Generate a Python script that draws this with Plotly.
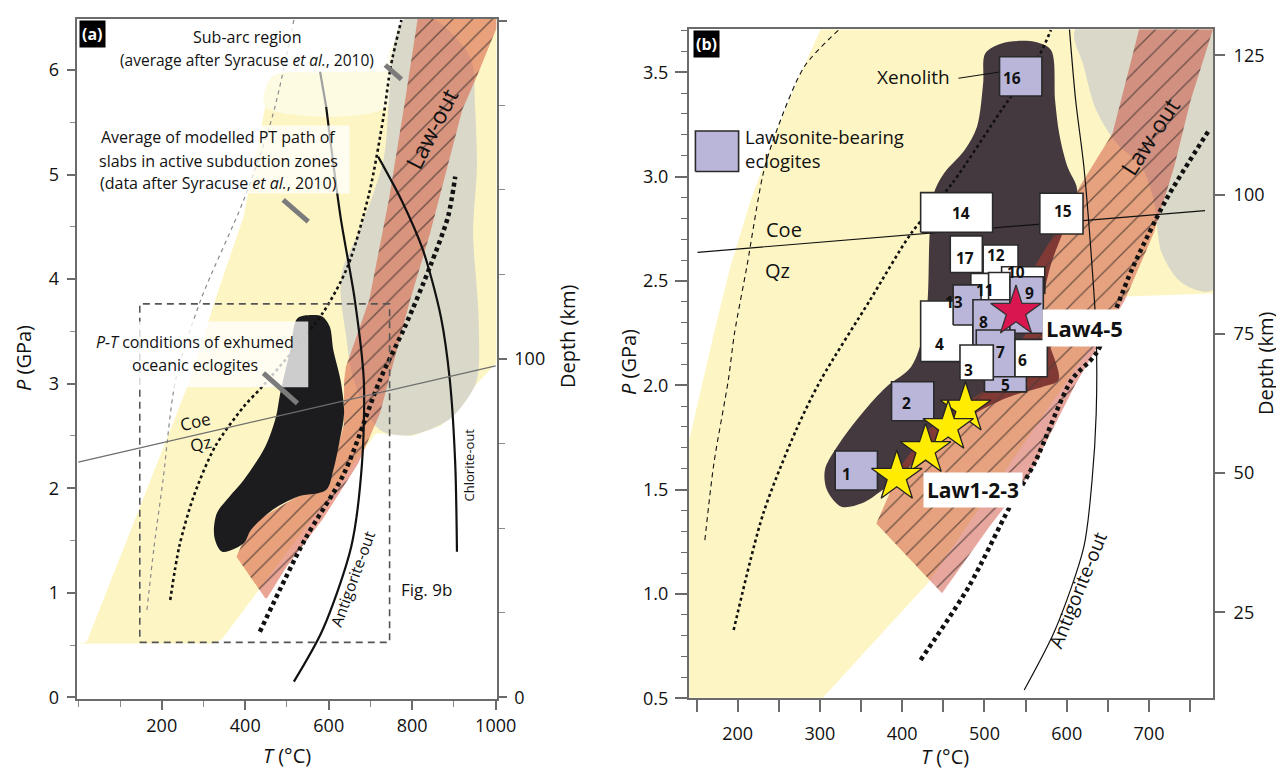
import plotly.graph_objects as go

FONT = "Open Sans, Noto Sans, DejaVu Sans, sans-serif"
W, H = 1284, 770          # browser window
OFF = 8                   # default page margin around the plot div
FW, FH = W - OFF, H - OFF


def px_x(px):
    return (px - OFF) / FW


def px_y(py):
    return 1 - (py - OFF) / FH


# ------------------------------------------------------------------ panel (a) data
A_YELLOW_T = [0, 20, 267, 328, 396, 448, 740, 757, 783, 1002, 1002, 955, 870, 800, 714, 345, 325]
A_YELLOW_P = [0.516, 0.53, 3.03, 3.80, 4.60, 5.65, 5.65, 6.26, 6.49, 6.49, 3.20, 3.00, 2.60, 2.50, 2.525, 0.56, 0.516]
A_PALE_T = [448, 465, 600, 722, 757, 740]
A_PALE_P = [5.65, 5.94, 5.98, 6.03, 6.26, 5.65]
A_GRAY_T = [757, 744, 731, 671, 635, 628, 640, 660, 714, 740, 800, 886, 929, 955, 959, 946, 955, 950, 946, 929, 850, 782]
A_GRAY_P = [6.26, 5.71, 5.14, 4.44, 4.12, 3.90, 3.50, 3.035, 2.59, 2.525, 2.51, 2.65, 2.84, 3.035, 3.64, 4.44, 5.08, 5.71, 6.03, 6.19, 6.49, 6.49]
A_LAW_T = [813, 1002, 1002, 955, 920, 843, 795, 723, 671, 585, 499, 452, 448, 379, 413.5, 525, 594, 636, 637, 641, 697, 744, 783]
A_LAW_P = [6.49, 6.49, 6.40, 5.94, 5.62, 4.44, 3.80, 2.72, 2.24, 1.70, 1.25, 0.947, 0.947, 1.345, 1.66, 1.92, 1.98, 2.60, 3.035, 3.16, 3.80, 4.76, 5.71]
A_ECLO_T = [525.1, 559.5, 585.2, 602.4, 611, 628.2, 636.8, 626.5, 611, 593.8, 525.1, 465, 413.5, 396.3, 344.8,
            325.9, 331.9, 362, 396.3, 447.8, 473.6, 482.2, 490.8, 508]
A_ECLO_P = [3.625, 3.657, 3.641, 3.546, 3.323, 3.035, 2.716, 2.461, 2.174, 1.983, 1.919, 1.792, 1.60, 1.473, 1.393,
            1.537, 1.76, 1.919, 2.079, 2.397, 2.684, 2.876, 3.035, 3.323]
A_SUBARC_T = [164.5, 181.6, 203, 233.2, 293.3, 396.3, 465, 516.5]
A_SUBARC_P = [0.835, 1.441, 2.079, 3.035, 3.80, 4.757, 5.554, 6.48]
A_AVG_T = [220.3, 241.8, 276.1, 327.6, 396.3, 447.8, 585.2, 645.3, 696.9, 731.2, 748.4, 774.1]
A_AVG_P = [0.931, 1.441, 1.919, 2.397, 2.78, 3.003, 3.673, 4.12, 4.821, 5.554, 6.032, 6.479]
A_HOT_T = [435, 542.3, 636.8, 722.6, 782.7, 842.8, 885.8, 903]
A_HOT_P = [0.628, 1.505, 2.142, 3.035, 3.546, 4.12, 4.598, 4.98]
A_ANTIG_T = [516.5, 585.2, 653.9, 679.7, 684, 662.5, 628.2, 593.8]
A_ANTIG_P = [0.15, 0.644, 1.441, 2.238, 3.035, 3.80, 4.598, 5.65]
A_ANTIG_EXT_T = [593.8, 579.2]
A_ANTIG_EXT_P = [5.65, 5.985]
A_CHLOR_T = [907.2, 903, 890.1, 868.6, 825.7, 774.1, 718.3]
A_CHLOR_P = [1.393, 2.238, 3.035, 3.641, 4.279, 4.757, 5.172]
A_COE_T = [0, 1000]
A_COE_P = [2.25, 3.17]
A_FIG9B_T = [147.3, 745.8]
A_FIG9B_P = [0.526, 3.763]
A_BARS_T = [[735.5, 774.1], [490.8, 550.9], [443.5, 525.1]]
A_BARS_P = [[6.048, 5.911], [4.757, 4.55], [3.10, 2.812]]
A_LABELBOX_T = [[65, 745], [27, 650], [18.5, 551]]
A_LABELBOX_P = [[5.985, 6.415], [4.82, 5.47], [2.965, 3.594]]

# ------------------------------------------------------------------ panel (b) data
B_YELLOW_T = [141, 303.5, 431, 670.7, 778, 778, 301, 271, 246, 216, 191.1, 171.1, 141]
B_YELLOW_P = [0.503, 0.503, 1.051, 2.425, 2.44, 3.706, 3.706, 3.447, 3.207, 2.888, 2.568, 2.249, 1.737]
B_GRAY_T = [610.8, 620.8, 635.8, 660.7, 690.7, 705.7, 715.7, 740.7, 778, 778]
B_GRAY_P = [3.706, 3.527, 3.319, 3.159, 3.048, 2.888, 2.632, 2.489, 2.457, 3.706]
B_BLOB_T = [500.9, 520.8, 560.8, 580.8, 585.8, 590.8, 600.8, 612, 612, 595, 580, 572, 575, 590,
            570.8, 530.8, 495.9, 460.9, 430.9, 400.9, 376, 351, 326, 308.5, 306, 321, 351, 380.9, 410.9,
            425.9, 430.9, 433.4, 438.4, 450.9, 475.9, 490.9, 498.4]
B_BLOB_P = [3.590, 3.638, 3.646, 3.606, 3.367, 3.207, 3.048, 2.952, 2.888, 2.728, 2.568, 2.409, 2.249, 2.025,
            1.993, 1.945, 1.881, 1.785, 1.706, 1.578, 1.498, 1.434, 1.418, 1.498, 1.594, 1.706, 1.865, 1.993, 2.089,
            2.249, 2.409, 2.728, 2.920, 3.016, 3.127, 3.239, 3.447]
B_LAW_T = [688, 777.8, 750.7, 730.7, 705.7, 670.7, 610, 555.8, 505.9, 448.4, 368.5, 400.9, 430.9, 470.9, 500.9,
           550.8, 560.8, 580.8, 615.8, 655.7]
B_LAW_P = [3.706, 3.706, 3.367, 3.048, 2.728, 2.409, 2.0, 1.578, 1.322, 1.003, 1.338, 1.626, 1.785, 1.897, 1.977,
           2.249, 2.568, 2.696, 2.952, 3.207]
B_THIN_T = [160.1, 171.1, 188.6, 196.1, 211.1, 231.1, 246.1, 281.1, 323.5]
B_THIN_P = [1.258, 1.626, 2.025, 2.249, 2.568, 3.016, 3.207, 3.527, 3.705]
B_AVG_T = [195.1, 231.1, 271.0, 301, 361, 410.9, 460.9, 520.8, 565.8, 580.8]
B_AVG_P = [0.827, 1.386, 1.785, 2.025, 2.409, 2.728, 2.968, 3.319, 3.575, 3.702]
B_HOT_T = [422.4, 480.9, 530.8, 560.8, 605.8, 635.8, 680.7, 720.7, 773.1]
B_HOT_P = [0.684, 1.035, 1.418, 1.626, 2.025, 2.153, 2.568, 2.888, 3.223]
B_ANTIG_T = [548.3, 585.8, 620.8, 630.8, 635.8, 635.8, 630.8, 620.8, 610.8, 603.3]
B_ANTIG_P = [0.540, 0.827, 1.226, 1.546, 1.865, 2.249, 2.568, 3.048, 3.367, 3.705]
B_COE_T = [151.1, 768.1]
B_COE_P = [2.637, 2.837]
B_XENO_T = [468.4, 528.3]
B_XENO_P = [3.471, 3.507]

# sample boxes (drawn bottom -> top)
BOX_ID = ["14", "15", "17", "12", "10", "11", "", "4", "13", "5", "8", "9", "7", "3", "6", "16", "2", "1", "legend"]
BOX_TMIN = [422.4, 567.3, 458.4, 498.4, 520.8, 483.4, 505, 422.4, 461.9, 500, 486, 531, 490, 470.2, 537.1, 518.3, 387, 318.5, 148.6]
BOX_TMAX = [509.9, 619.8, 497.4, 540.8, 573.3, 520.8, 531, 485.9, 495.9, 551, 531, 571.5, 537, 510.7, 576.4, 569.8, 438.4, 369.9, 201.1]
BOX_PMIN = [2.733, 2.725, 2.540, 2.513, 2.441, 2.289, 2.40, 2.113, 2.289, 1.968, 2.185, 2.249, 2.041, 2.025, 2.041, 3.386, 1.830, 1.498, 3.024]
BOX_PMAX = [2.923, 2.920, 2.715, 2.672, 2.568, 2.536, 2.54, 2.404, 2.481, 2.09, 2.41, 2.52, 2.265, 2.193, 2.220, 3.574, 2.017, 1.685, 3.218]
BOX_LAWSONITE = [0, 0, 0, 0, 0, 0, 0, 0, 1, 1, 1, 1, 1, 0, 0, 1, 1, 1, 1]
LABEL_ID = ["14", "15", "17", "12", "10", "11", "4", "13", "5", "8", "9", "7", "3", "6", "16", "2", "1"]
LABEL_T = [470.9, 596, 476, 514.5, 538.3, 500.9, 444.9, 463, 525.8, 498.4, 554.8, 519.8, 480.9, 546, 533.3, 405, 332.5]
LABEL_P = [2.824, 2.835, 2.608, 2.624, 2.544, 2.457, 2.20, 2.401, 2.0, 2.305, 2.441, 2.161, 2.073, 2.121, 3.471, 1.916, 1.573]

STAR_YELLOW_T = [476.9, 455.9, 428.4, 393.4]
STAR_YELLOW_P = [1.889, 1.801, 1.690, 1.562]
STAR_RED_T = [538.3]
STAR_RED_P = [2.353]

# depth conversion (km per GPa) for the right-hand axes
A_KM_PER_GPA = 30.9
B_DEPTH_AT_2246 = 75.0
B_KM_PER_GPA = 37.47

A_XR = [-3.8, 1002.4]
A_YR = [-0.016, 6.488]
B_XR = [140.8, 777.8]
B_YR = [0.5, 3.7055]

YELLOW = "#fdf6c4"
PALE = "#fefbe3"
GRAY = "#d9d8c9"
LAV = "#b9b6da"

fig = go.Figure()


def poly(t, p, color, xa, ya, smooth=False, pattern=None):
    kw = dict(x=list(t) + [t[0]], y=list(p) + [p[0]], mode="lines", fill="toself", fillcolor=color,
              line=dict(width=0, color=color, shape="spline" if smooth else "linear", smoothing=0.9),
              xaxis=xa, yaxis=ya, hoverinfo="skip", showlegend=False)
    if pattern is not None:
        kw["fillpattern"] = pattern
    fig.add_trace(go.Scatter(**kw))


def curve(t, p, xa, ya, color="#111", width=1.2, dash="solid", smooth=True):
    fig.add_trace(go.Scatter(x=t, y=p, mode="lines", xaxis=xa, yaxis=ya, hoverinfo="skip", showlegend=False,
                             line=dict(color=color, width=width, dash=dash,
                                       shape="spline" if smooth else "linear", smoothing=0.8)))


# ------------------------------------------------------------------ panel (a) drawing
poly(A_YELLOW_T, A_YELLOW_P, YELLOW, "x", "y")
poly(A_PALE_T, A_PALE_P, PALE, "x", "y", smooth=True)
poly(A_GRAY_T, A_GRAY_P, GRAY, "x", "y", smooth=True)
law_a = "rgba(217,94,68,0.56)"
poly(A_LAW_T, A_LAW_P, law_a, "x", "y",
     pattern=dict(shape="/", fgcolor="#4a3a35", bgcolor=law_a, size=14, solidity=0.09, fgopacity=0.8))
poly(A_ECLO_T, A_ECLO_P, "#1c1c1e", "x", "y", smooth=True)

curve(A_SUBARC_T, A_SUBARC_P, "x", "y", color="#8a8a8a", width=1.2, dash="4px,4px")
curve(A_AVG_T, A_AVG_P, "x", "y", color="#111", width=2.6, dash="3px,3px")
curve(A_HOT_T, A_HOT_P, "x", "y", color="#111", width=4.5, dash="4px,3.5px")
curve(A_ANTIG_T, A_ANTIG_P, "x", "y", color="#111", width=2.2)
curve(A_ANTIG_EXT_T, A_ANTIG_EXT_P, "x", "y", color="#a0a0a0", width=2.2, smooth=False)
curve(A_CHLOR_T, A_CHLOR_P, "x", "y", color="#111", width=2.2)
curve(A_COE_T, A_COE_P, "x", "y", color="#6e6e6e", width=1.2, smooth=False)
rx = [A_FIG9B_T[0], A_FIG9B_T[1], A_FIG9B_T[1], A_FIG9B_T[0], A_FIG9B_T[0]]
ry = [A_FIG9B_P[0], A_FIG9B_P[0], A_FIG9B_P[1], A_FIG9B_P[1], A_FIG9B_P[0]]
curve(rx, ry, "x", "y", color="#555", width=1.6, dash="7px,5px", smooth=False)

for (t0, t1), (p0, p1), alpha in zip(A_LABELBOX_T, A_LABELBOX_P, [0.8, 0.72, 0.78]):
    poly([t0, t1, t1, t0], [p0, p0, p1, p1], "rgba(255,255,255,%.2f)" % alpha, "x", "y")

for bt, bp in zip(A_BARS_T, A_BARS_P):
    curve(bt, bp, "x", "y", color="#7b7b7b", width=5, smooth=False)

# ------------------------------------------------------------------ panel (b) drawing
poly(B_YELLOW_T, B_YELLOW_P, YELLOW, "x2", "y2", smooth=False)
poly(B_GRAY_T, B_GRAY_P, GRAY, "x2", "y2", smooth=True)
poly(B_BLOB_T, B_BLOB_P, "#453940", "x2", "y2", smooth=True)
law_b = "rgba(202,58,40,0.45)"
poly(B_LAW_T, B_LAW_P, law_b, "x2", "y2",
     pattern=dict(shape="/", fgcolor="#4a3a35", bgcolor=law_b, size=15, solidity=0.08, fgopacity=0.8))

curve(B_THIN_T, B_THIN_P, "x2", "y2", color="#111", width=1.1, dash="5px,4px")
curve(B_AVG_T, B_AVG_P, "x2", "y2", color="#111", width=2.6, dash="3px,3px")
curve(B_HOT_T, B_HOT_P, "x2", "y2", color="#111", width=4.5, dash="4px,3.5px")
curve(B_ANTIG_T, B_ANTIG_P, "x2", "y2", color="#111", width=1.2)
curve(B_COE_T, B_COE_P, "x2", "y2", color="#111", width=1.2, smooth=False)
curve(B_XENO_T, B_XENO_P, "x2", "y2", color="#111", width=1.2, smooth=False)

for i in range(len(BOX_ID)):
    t0, t1, p0, p1 = BOX_TMIN[i], BOX_TMAX[i], BOX_PMIN[i], BOX_PMAX[i]
    fig.add_trace(go.Scatter(x=[t0, t1, t1, t0, t0], y=[p0, p0, p1, p1, p0], mode="lines", fill="toself",
                             fillcolor=LAV if BOX_LAWSONITE[i] else "#ffffff",
                             line=dict(color="#2a2a2a", width=1.6), xaxis="x2", yaxis="y2",
                             hoverinfo="skip", showlegend=False))

fig.add_trace(go.Scatter(x=STAR_YELLOW_T, y=STAR_YELLOW_P, mode="markers", xaxis="x2", yaxis="y2",
                         marker=dict(symbol="star", size=38, color="#ffec00", line=dict(color="#222", width=1.3)),
                         hoverinfo="skip", showlegend=False))
fig.add_trace(go.Scatter(x=STAR_RED_T, y=STAR_RED_P, mode="markers", xaxis="x2", yaxis="y2",
                         marker=dict(symbol="star", size=38, color="#d9164f", line=dict(color="#333", width=1.3)),
                         hoverinfo="skip", showlegend=False))

# invisible traces so that the depth axes are drawn
fig.add_trace(go.Scatter(x=[500], y=[100], xaxis="x", yaxis="y3", mode="markers",
                         marker=dict(opacity=0), hoverinfo="skip", showlegend=False))
fig.add_trace(go.Scatter(x=[500], y=[75], xaxis="x2", yaxis="y4", mode="markers",
                         marker=dict(opacity=0), hoverinfo="skip", showlegend=False))

# ------------------------------------------------------------------ annotations
ann = []


def txt(text, x, y, xref, yref, size=16, angle=0, color="#111", bg=None, xanchor="center", bold=False, pad=1):
    d = dict(text="<b>%s</b>" % text if bold else text, x=x, y=y, xref=xref, yref=yref, showarrow=False,
             textangle=angle, xanchor=xanchor, yanchor="middle",
             font=dict(family=FONT, size=size, color=color))
    if bg:
        d["bgcolor"] = bg
        d["borderpad"] = pad
    ann.append(d)


# panel (a)
txt("Sub-arc region", 405, 6.32, "x", "y", 16)
txt("(average after Syracuse <i>et al.</i>, 2010)", 405, 6.096, "x", "y", 15.5)
txt("Average of modelled PT path of", 336, 5.357, "x", "y", 16)
txt("slabs in active subduction zones", 337, 5.133, "x", "y", 16)
txt("(data after Syracuse <i>et al.</i>, 2010)", 336, 4.917, "x", "y", 16)
txt("<i>P-T</i> conditions of exhumed", 279, 3.402, "x", "y", 16)
txt("oceanic eclogites", 280, 3.179, "x", "y", 16)
txt("Law-out", 845, 5.44, "x", "y", 23, angle=-63)
txt("Coe", 280, 2.636, "x", "y", 17, angle=-13)
txt("Qz", 293, 2.429, "x", "y", 17, angle=-13)
txt("Antigorite-out", 658, 1.14, "x", "y", 15.5, angle=-70)
txt("Chlorite-out", 937, 2.222, "x", "y", 13, angle=-90)
txt("Fig. 9b", 834, 1.027, "x", "y", 17)

# panel (b)
txt("Xenolith", 413.4, 3.479, "x2", "y2", 19)
txt("Lawsonite-bearing", 207, 3.194, "x2", "y2", 18.5, xanchor="left")
txt("eclogites", 207, 3.075, "x2", "y2", 18.5, xanchor="left")
txt("Coe", 256, 2.744, "x2", "y2", 20)
txt("Qz", 248.6, 2.549, "x2", "y2", 20)
txt("Law-out", 700.7, 3.19, "x2", "y2", 23, angle=-57)
txt("Antigorite-out", 613.3, 1.02, "x2", "y2", 19, angle=-68)
txt("Law1-2-3", 486, 1.50, "x2", "y2", 21, bold=True, bg="#ffffff", pad=3)
txt("Law4-5", 622, 2.275, "x2", "y2", 22, bold=True, bg="#ffffff", pad=3)
for lab, t, p in zip(LABEL_ID, LABEL_T, LABEL_P):
    txt(lab, t, p, "x2", "y2", 15.5, bold=True)

# panel tags and axis titles (paper coordinates, explicitly centred)
ann.append(dict(text="<b>(a)</b>", x=px_x(92.5), y=px_y(34), xref="paper", yref="paper", showarrow=False,
                xanchor="center", yanchor="middle",
                font=dict(family=FONT, size=16, color="white"), bgcolor="black", borderpad=2))
ann.append(dict(text="<b>(b)</b>", x=px_x(706.8), y=px_y(44.2), xref="paper", yref="paper", showarrow=False,
                xanchor="center", yanchor="middle",
                font=dict(family=FONT, size=16, color="white"), bgcolor="black", borderpad=2))
for text, px, py, ang in [("<i>P</i> (GPa)", 24, 358, -90), ("<i>T</i> (°C)", 286.7, 755, 0),
                          ("Depth (km)", 567, 337, -90), ("<i>P</i> (GPa)", 628, 362, -90),
                          ("<i>T</i> (°C)", 945, 756, 0), ("Depth (km)", 1265, 364, -90)]:
    ann.append(dict(text=text, x=px_x(px), y=px_y(py), xref="paper", yref="paper", showarrow=False,
                    xanchor="center", yanchor="middle",
                    textangle=ang, font=dict(family=FONT, size=20, color="#111")))

AX = dict(showline=True, linecolor="#6b6b6b", linewidth=2, ticks="outside", tickcolor="#6b6b6b", tickwidth=1.5,
          showgrid=False, zeroline=False, fixedrange=True, automargin=False,
          tickfont=dict(family=FONT, size=18, color="#111"))

fig.update_layout(
    template="none",
    width=FW, height=FH, margin=dict(l=0, r=0, t=0, b=0, pad=0), autosize=False,
    paper_bgcolor="white", plot_bgcolor="white", showlegend=False, annotations=ann,
    xaxis=dict(AX, domain=[px_x(76.7), px_x(496.7)], range=A_XR, anchor="y", mirror=True, ticklen=9,
               tickvals=[200, 400, 600, 800, 1000],
               minor=dict(tickmode="linear", tick0=0, dtick=100, ticks="outside", ticklen=6,
                          tickcolor="#8a8a8a", tickwidth=1.2)),
    yaxis=dict(AX, domain=[px_y(699), px_y(19)], range=A_YR, anchor="x", ticklen=8,
               tickvals=[0, 1, 2, 3, 4, 5, 6], ticklabelstandoff=4,
               minor=dict(tickmode="linear", tick0=0, dtick=0.5, ticks="outside", ticklen=5,
                          tickcolor="#8a8a8a", tickwidth=1.2)),
    yaxis3=dict(AX, overlaying="y", side="right", anchor="x",
                range=[A_YR[0] * A_KM_PER_GPA, A_YR[1] * A_KM_PER_GPA], ticklen=8,
                tickvals=[0, 100, 200], ticklabelstandoff=4,
                minor=dict(tickmode="linear", tick0=0, dtick=25, ticks="outside", ticklen=6,
                           tickcolor="#8a8a8a", tickwidth=1.2)),
    xaxis2=dict(AX, domain=[px_x(689), px_x(1213)], range=B_XR, anchor="y2", mirror=True, ticklen=12,
                tickvals=[200, 300, 400, 500, 600, 700], ticklabelstandoff=6,
                minor=dict(tickmode="linear", tick0=0, dtick=50, ticks="outside", ticklen=12,
                           tickcolor="#6b6b6b", tickwidth=1.5)),
    yaxis2=dict(AX, domain=[px_y(698.3), px_y(29.3)], range=B_YR, anchor="x2", ticklen=12,
                tickvals=[0.5, 1.0, 1.5, 2.0, 2.5, 3.0, 3.5],
                ticktext=["0.5", "1.0", "1.5", "2.0", "2.5", "3.0", "3.5"], ticklabelstandoff=3,
                minor=dict(tickmode="linear", tick0=0, dtick=0.1, ticks="outside", ticklen=6,
                           tickcolor="#6b6b6b", tickwidth=1.2)),
    yaxis4=dict(AX, overlaying="y2", side="right", anchor="x2",
                range=[B_DEPTH_AT_2246 + (B_YR[0] - 2.246) * B_KM_PER_GPA,
                       B_DEPTH_AT_2246 + (B_YR[1] - 2.246) * B_KM_PER_GPA],
                ticklen=10, tickvals=[25, 50, 75, 100, 125], ticklabelstandoff=5),
)

fig.write_html("out.html")
